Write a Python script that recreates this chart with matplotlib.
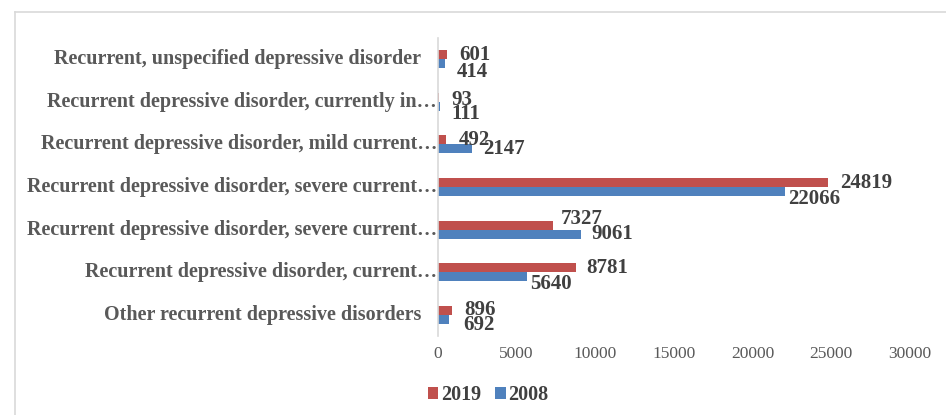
import matplotlib
matplotlib.use("Agg")
import matplotlib.pyplot as plt
from matplotlib.lines import Line2D
import numpy as np

# ---- data (bottom to top, as drawn) ----
categories = [
    "Other recurrent depressive disorders",
    "Recurrent depressive disorder, current…",
    "Recurrent depressive disorder, severe current…",
    "Recurrent depressive disorder, severe current…",
    "Recurrent depressive disorder, mild current…",
    "Recurrent depressive disorder, currently in…",
    "Recurrent, unspecified depressive disorder",
]
values_2019 = [896, 8781, 7327, 24819, 492, 93, 601]
values_2008 = [692, 5640, 9061, 22066, 2147, 111, 414]
series_names = ["2019", "2008"]
x_ticks = [0, 5000, 10000, 15000, 20000, 25000, 30000]

# label nudges in pixels (dx from bar end, dy downward from bar centre)
nudge_2019 = [(12, 0), (10, 0), (7, -6), (12, 0), (13, 0), (12, 3), (12, 0)]
nudge_2008 = [(14, 6), (3, 7), (11, 0), (3, 8), (11, 0), (12, 8), (12, 8)]

RED = "#C0504D"
BLUE = "#4F81BD"
SERIF = ["Liberation Serif", "DejaVu Serif"]

fig = plt.figure(figsize=(9.46, 4.15), dpi=100)
W, H = 946, 415
ax = fig.add_axes([438 / W, 1 - 336 / H, (910 - 438) / W, (336 - 38) / H])

y = np.arange(len(categories))
bh = 0.21
b1 = ax.barh(y + bh / 2, values_2019, height=bh, color=RED, label=series_names[0])
b2 = ax.barh(y - bh / 2, values_2008, height=bh, color=BLUE, label=series_names[1])

ax.set_xlim(0, 30000)
ax.set_ylim(-0.5, len(categories) - 0.5)
ax.set_xticks(x_ticks)
ax.set_xticklabels([str(t) for t in x_ticks], family=SERIF, fontsize=12.5, color="#595959")
ax.tick_params(axis="x", length=0, pad=7)
ax.set_yticks([])
for s in ["top", "right", "bottom"]:
    ax.spines[s].set_visible(False)
ax.spines["left"].set_color("#D9D9D9")
ax.spines["left"].set_linewidth(1.2)

tr = ax.get_yaxis_transform()
for i, lab in enumerate(categories):
    off = -1 if lab.endswith("…") else -17
    ax.annotate(lab, xy=(0, i), xycoords=tr, xytext=(off, 0), textcoords="offset pixels",
                ha="right", va="center", family=SERIF, fontsize=14.5, fontweight="bold",
                color="#595959")

for vals, ys, nud in [(values_2019, y + bh / 2, nudge_2019), (values_2008, y - bh / 2, nudge_2008)]:
    for v, yy, (dx, dy) in zip(vals, ys, nud):
        ax.annotate(str(v), xy=(v, yy), xytext=(dx, -dy), textcoords="offset pixels",
                    ha="left", va="center", family=SERIF, fontsize=15, fontweight="bold",
                    color="#404040")

leg = fig.legend(handles=[b1, b2], loc="center left", bbox_to_anchor=(410 / W, 1 - 395 / H),
                 ncol=2, frameon=False, prop={"family": SERIF, "size": 14.5, "weight": "bold"},
                 handlelength=0.5, handleheight=0.5, handletextpad=0.15, columnspacing=0.7,
                 labelcolor="#404040")

# outer chart frame
fig.add_artist(Line2D([15 / W, 15 / W], [0, 1 - 12 / H], color="#D9D9D9", lw=1.2, transform=fig.transFigure))
fig.add_artist(Line2D([15 / W, 1], [1 - 12 / H, 1 - 12 / H], color="#D9D9D9", lw=1.2, transform=fig.transFigure))

fig.savefig("out.png", dpi=100)
